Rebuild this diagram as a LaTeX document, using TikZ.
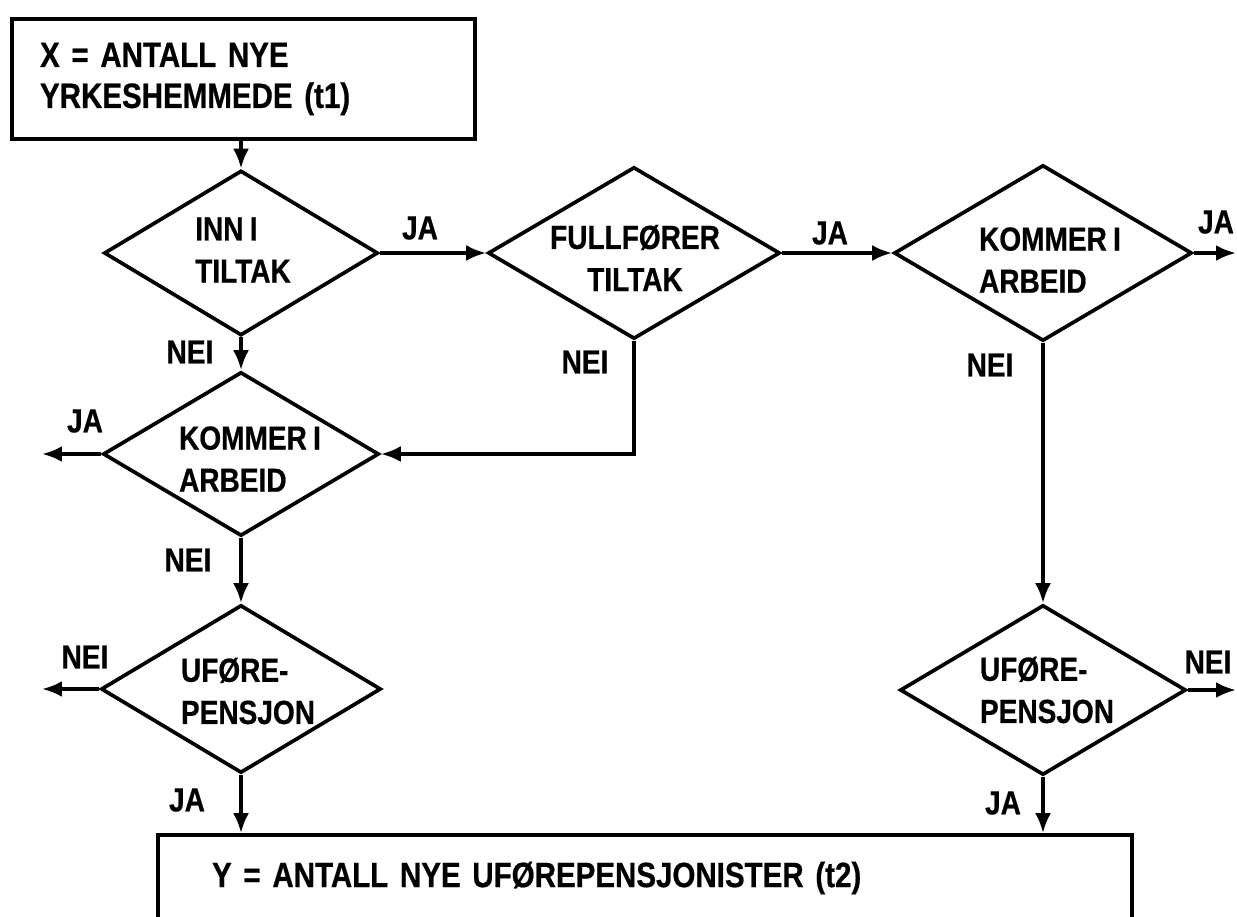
\documentclass[tikz,border=0pt]{standalone}
\usepackage{fontspec}
\newfontfamily\flowfont{Liberation Sans}[FakeStretch=0.84, WordSpace=0.8,
  BoldFeatures={FakeBold=0.6}]
\usetikzlibrary{shapes.geometric,arrows.meta}

\begin{document}
\begin{tikzpicture}[x=0.02cm,y=-0.02cm,
  every node/.style={font={\flowfont\bfseries\fontsize{19pt}{24pt}\selectfont}},
  bigtext/.style={font={\flowfont\bfseries\fontsize{20pt}{23.3pt}\selectfont}},
  box/.style={draw, line width=2.1pt, rectangle, inner ysep=0pt, align=left},
  dec/.style={draw, diamond, line width=2.1pt, inner sep=0pt},
  dtext/.style={align=left, inner sep=0pt},
  ctext/.style={align=center, inner sep=0pt},
  lbl/.style={inner sep=0pt},
  arr/.style={line width=2.1pt, -{Latex[length=0.4cm,width=0.32cm]}}
]
\useasboundingbox (0,0) rectangle (1237,916);

% start box
\node[box, bigtext, minimum width=9.26cm, minimum height=2.4cm,
      text width=8.14cm, inner xsep=0.56cm] (xbox) at (243.5,79)
      {X = ANTALL NYE\\YRKESHEMMEDE (t1)};

% decisions
\node[dec, minimum width=5.48cm, minimum height=3.30cm] (d1) at (241,253) {};
\node[dec, minimum width=5.84cm, minimum height=3.44cm] (d2) at (634,253) {};
\node[dec, minimum width=5.96cm, minimum height=3.52cm] (d3) at (1043,253) {};
\node[dec, minimum width=5.52cm, minimum height=3.28cm] (d4) at (241,454) {};
\node[dec, minimum width=5.60cm, minimum height=3.36cm] (d5) at (241,689) {};
\node[dec, minimum width=5.72cm, minimum height=3.40cm] (d6) at (1043,690) {};

% decision texts
\node[dtext] (t1) at (243,250) {INN I\\TILTAK};
\node[ctext] (t2) at (635,258) {FULLFØRER\\TILTAK};
\node[dtext] (t3) at (1050,260) {KOMMER I\\ARBEID};
\node[dtext] (t4) at (250,459) {KOMMER I\\ARBEID};
\node[dtext] (t5) at (248,691) {UFØRE-\\PENSJON};
\node[dtext] (t6) at (1047,690) {UFØRE-\\PENSJON};

% result box, running off the lower edge
\begin{scope}
\clip (0,0) rectangle (1237,916);
\node[box, bigtext, minimum width=19.48cm, minimum height=1.72cm,
      text width=17.32cm, inner xsep=1.08cm] (ybox) at (645,878)
      {Y = ANTALL NYE UFØREPENSJONISTER (t2)};
\end{scope}

% free ends of the exits
\coordinate (outA) at (1236,253);
\coordinate (outB) at (42,454);
\coordinate (outC) at (42,689);
\coordinate (outD) at (1236,690);

% connectors
\draw[arr] (d1.north |- xbox.south) -- (d1.north);
\draw[arr] (d1.east) -- (d2.west);
\draw[arr] (d2.east) -- (d3.west);
\draw[arr] (d3.east) -- (outA);
\draw[arr] (d1.south) -- (d4.north);
\draw[arr] (d2.south) |- (d4.east);
\draw[arr] (d4.west) -- (outB);
\draw[arr] (d4.south) -- (d5.north);
\draw[arr] (d5.west) -- (outC);
\draw[arr] (d5.south) -- (d5.south |- ybox.north);
\draw[arr] (d3.south) -- (d6.north);
\draw[arr] (d6.east) -- (outD);
\draw[arr] (d6.south) -- (d6.south |- ybox.north);

% branch labels
\node[lbl] (l1) at (420,228) {JA};
\node[lbl] (l2) at (190,352) {NEI};
\node[lbl] (l3) at (585,362) {NEI};
\node[lbl] (l4) at (830,233) {JA};
\node[lbl] (l5) at (1216,222) {JA};
\node[lbl] (l6) at (990,365) {NEI};
\node[lbl] (l7) at (85,421) {JA};
\node[lbl] (l8) at (188,560) {NEI};
\node[lbl] (l9) at (85,657) {NEI};
\node[lbl] (l10) at (187,800) {JA};
\node[lbl] (l11) at (1208,662) {NEI};
\node[lbl] (l12) at (1003,803) {JA};
\end{tikzpicture}
\end{document}
